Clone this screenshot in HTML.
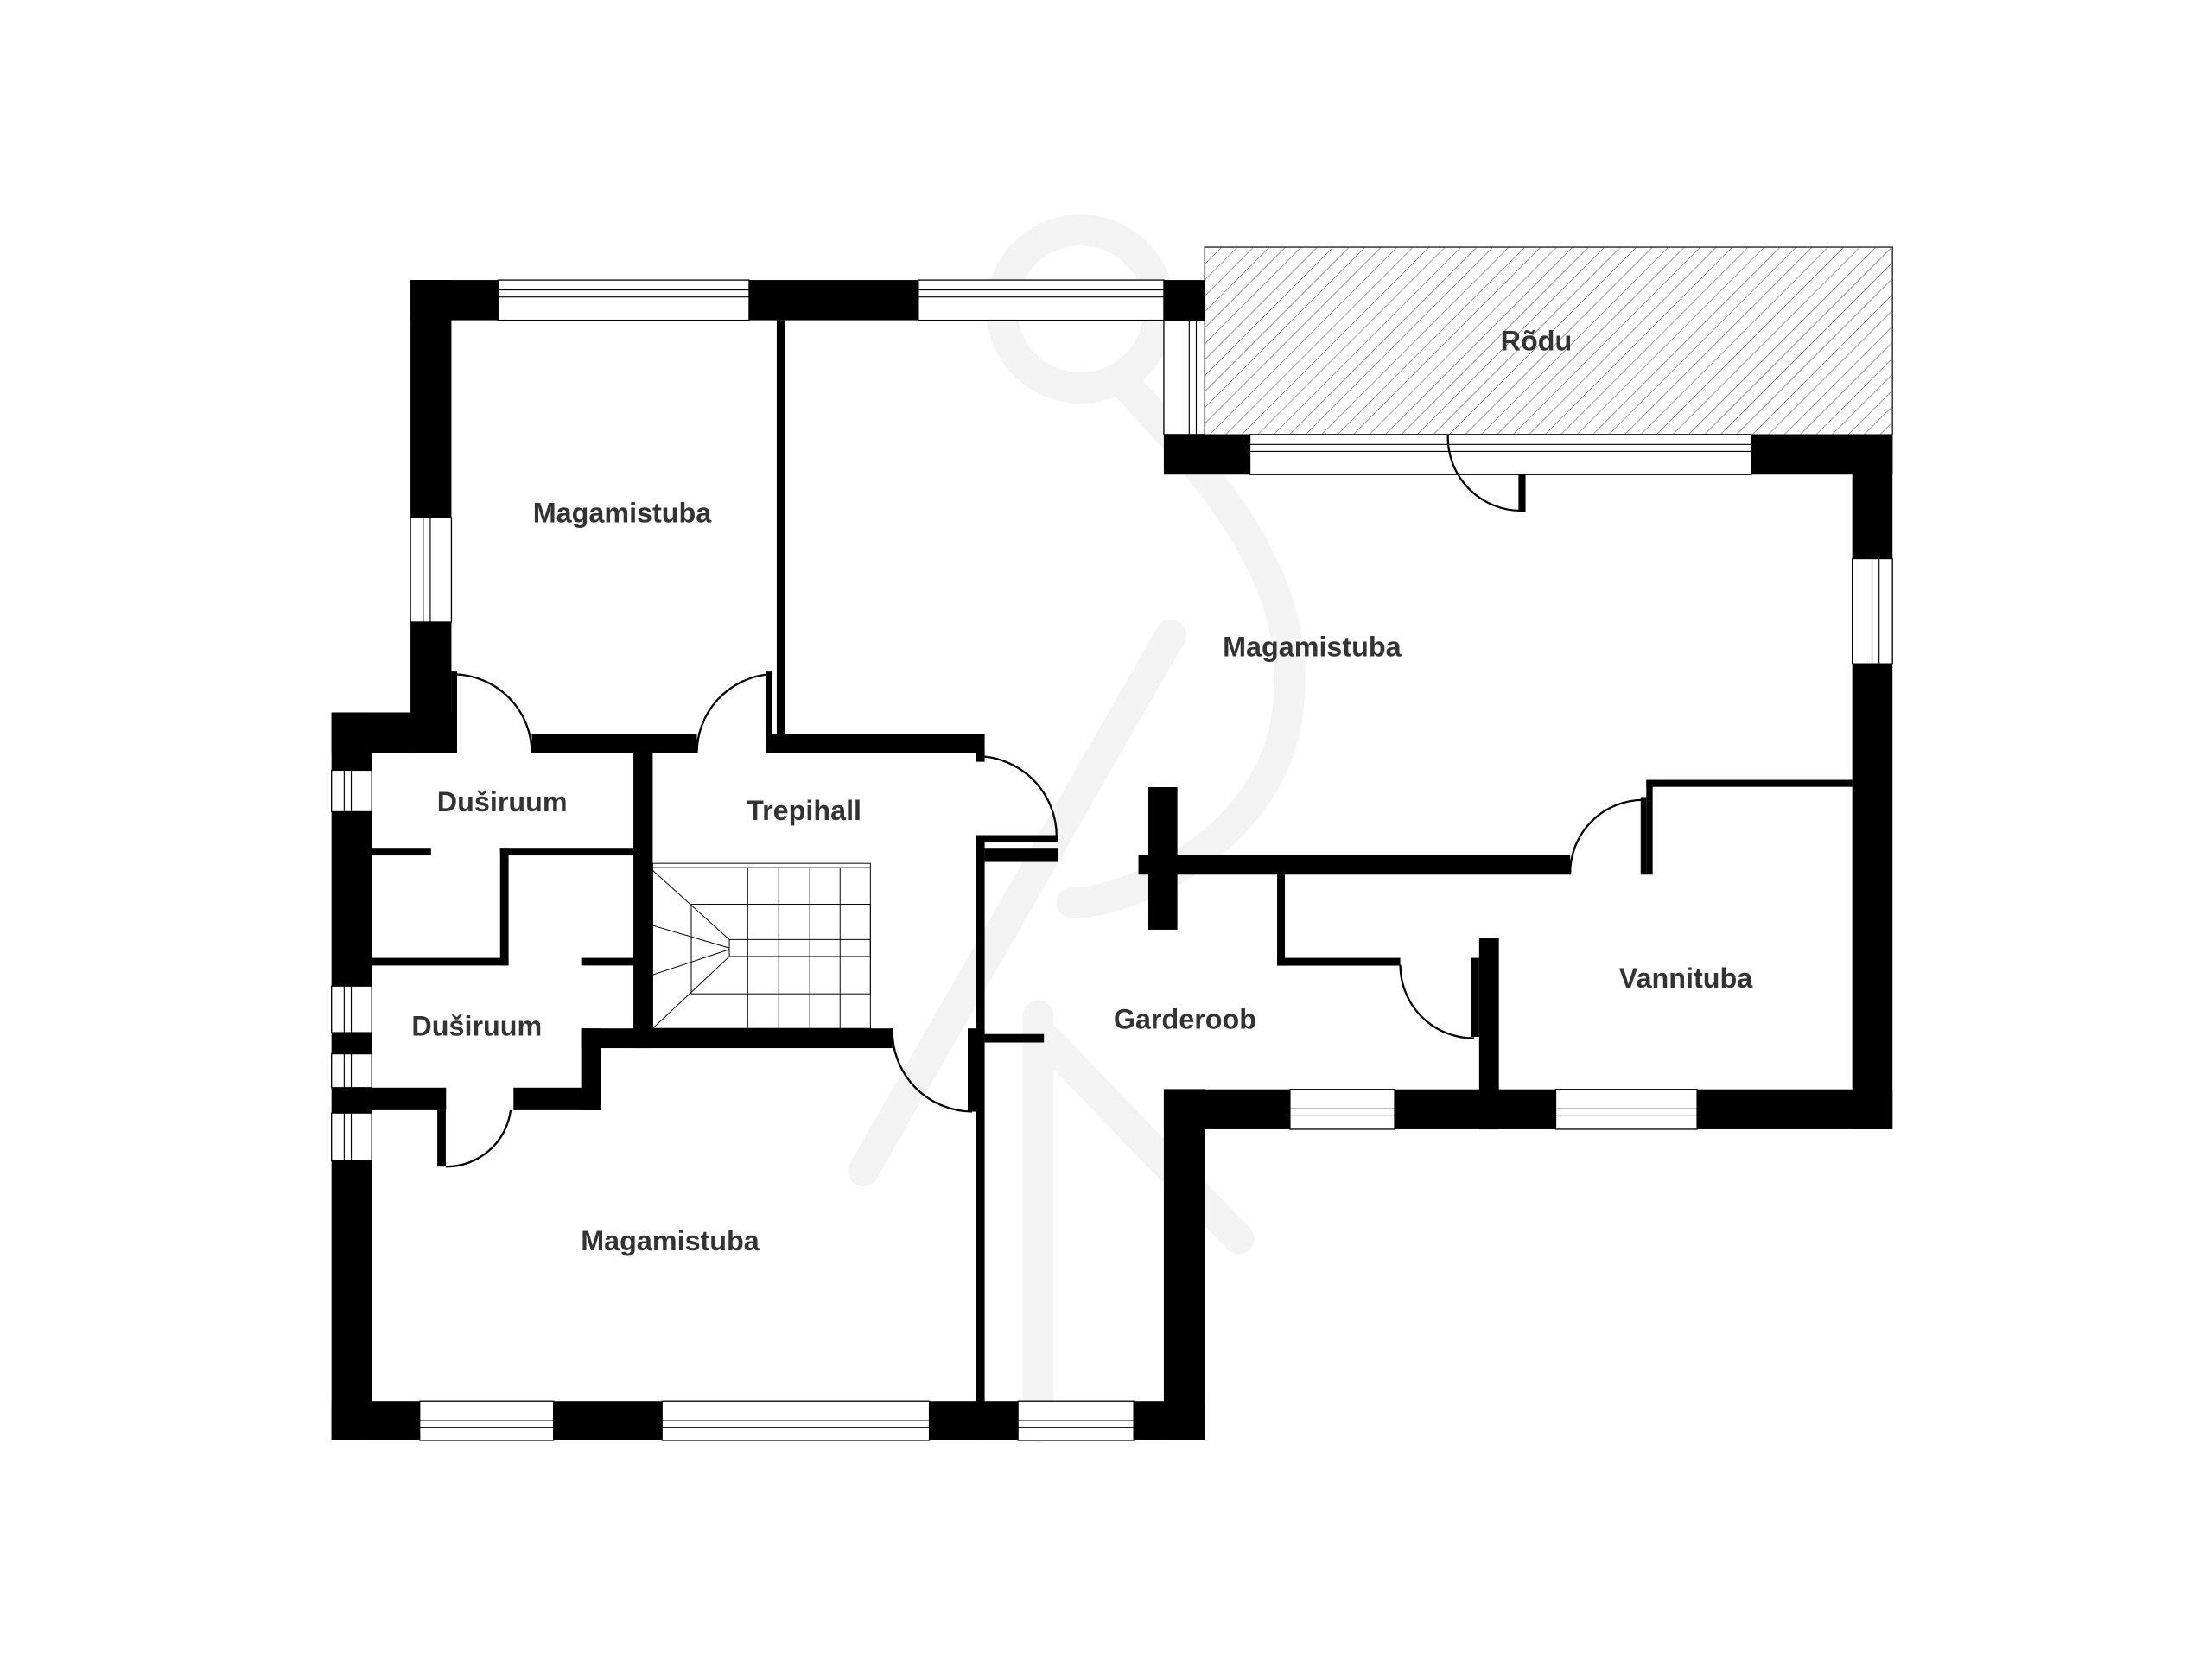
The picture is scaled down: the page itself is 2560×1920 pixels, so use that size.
<!DOCTYPE html>
<html><head><meta charset="utf-8"><style>
html,body{margin:0;padding:0;background:#fff;}
svg{display:block;}
text{font-family:"Liberation Sans",sans-serif;font-weight:bold;fill:#333;font-size:19.8px;text-anchor:middle;dominant-baseline:middle;}
</style></head><body>
<svg width="2560" height="1920" viewBox="0 0 1568 1176" xmlns="http://www.w3.org/2000/svg">
<defs>
<pattern id="h" patternUnits="userSpaceOnUse" width="8" height="8" patternTransform="rotate(45)">
<line x1="0" y1="0" x2="0" y2="8" stroke="#555" stroke-width="0.7"/>
</pattern>
</defs>
<rect width="1568" height="1176" fill="#fff"/>
<!-- watermark -->
<g fill="none" stroke="#f3f3f3" stroke-width="22" stroke-linecap="round">
<circle cx="766" cy="219" r="56"/>
<path d="M800 275 C 880 360, 930 430, 910 520 C 890 600, 800 640, 760 640"/>
<line x1="612" y1="830" x2="830" y2="450"/>
<line x1="736" y1="720" x2="736" y2="1012"/>
<line x1="740" y1="735" x2="878" y2="878"/>
</g>
<!-- balcony -->
<rect x="854" y="175.2" width="487.5" height="133" fill="url(#h)" stroke="#444" stroke-width="1"/>
<text x="1089" y="243">Rõdu</text>
<g fill="#000">
<rect x="291" y="198.5" width="62" height="28.5"/>
<rect x="531" y="198.5" width="120" height="28.5"/>
<rect x="825" y="198.5" width="29" height="28.5"/>
<rect x="291" y="198.5" width="29" height="168.5"/>
<rect x="291" y="441" width="29" height="93"/>
<rect x="235" y="505" width="85" height="29"/>
<rect x="377" y="520" width="117" height="14"/>
<rect x="550.6" y="227" width="6" height="300"/>
<rect x="545" y="520" width="153" height="14"/>
<rect x="235" y="505" width="28.5" height="41"/>
<rect x="235" y="575" width="28.5" height="124"/>
<rect x="235" y="732" width="28.5" height="15"/>
<rect x="235" y="771" width="28.5" height="18"/>
<rect x="235" y="823" width="28.5" height="198"/>
<rect x="449" y="534" width="13.7" height="209"/>
<rect x="263.5" y="601" width="42" height="5.4"/>
<rect x="354.5" y="601" width="94.5" height="5.4"/>
<rect x="354.5" y="601" width="6" height="83.4"/>
<rect x="263.5" y="679" width="97" height="5.4"/>
<rect x="412" y="679" width="37" height="5.4"/>
<rect x="412" y="729" width="14.3" height="58"/>
<rect x="412" y="729" width="220.6" height="14"/>
<rect x="263.5" y="771" width="52.7" height="16"/>
<rect x="364" y="771" width="62" height="16"/>
<rect x="310" y="787" width="6" height="40"/>
<rect x="692" y="534" width="6" height="6"/>
<rect x="692" y="592" width="6" height="429"/>
<rect x="692" y="592" width="58" height="5"/>
<rect x="698" y="601" width="52" height="10"/>
<rect x="686" y="729" width="6" height="59"/>
<rect x="698" y="733" width="42" height="6"/>
<rect x="235" y="993" width="62.5" height="28"/>
<rect x="392.4" y="993" width="77" height="28"/>
<rect x="658.8" y="993" width="63" height="28"/>
<rect x="803.7" y="993" width="50.3" height="28"/>
<rect x="825" y="772" width="29" height="249"/>
<rect x="825" y="308" width="61" height="28.4"/>
<rect x="1241.6" y="308" width="100" height="28.4"/>
<rect x="1076.4" y="308" width="5" height="55"/>
<rect x="1313" y="308" width="28.5" height="88"/>
<rect x="1313" y="470.5" width="28.5" height="330"/>
<rect x="1167" y="552.8" width="146" height="5"/>
<rect x="1167" y="553" width="4.5" height="67"/>
<rect x="1163" y="565" width="4" height="55"/>
<rect x="807" y="606" width="306" height="14"/>
<rect x="814" y="558" width="20.6" height="101"/>
<rect x="905.3" y="620" width="5.5" height="64.5"/>
<rect x="905.3" y="679" width="87.3" height="5.5"/>
<rect x="1043" y="679" width="5.5" height="56"/>
<rect x="1048.5" y="664.6" width="14" height="136"/>
<rect x="825" y="772.2" width="89.4" height="28.3"/>
<rect x="988.6" y="772.2" width="114.2" height="28.3"/>
<rect x="1203" y="772.2" width="138.5" height="28.3"/>
<rect x="320" y="476" width="4" height="58"/>
<rect x="543" y="476" width="4" height="58"/>
</g>
<g fill="#fff" stroke="#000" stroke-width="0.8">
<rect x="353" y="198.5" width="178" height="28.5"/>
<rect x="651" y="198.5" width="174" height="28.5"/>
<rect x="291" y="367" width="29" height="74"/>
<rect x="235" y="546" width="28.5" height="29.4"/>
<rect x="235" y="699" width="28.5" height="33"/>
<rect x="235" y="747" width="28.5" height="24"/>
<rect x="235" y="789" width="28.5" height="34"/>
<rect x="297.5" y="993" width="94.9" height="28"/>
<rect x="469.3" y="993" width="189.5" height="28"/>
<rect x="721.6" y="993" width="82.1" height="28"/>
<rect x="825" y="227" width="29" height="81"/>
<rect x="886" y="308" width="355.6" height="28.4"/>
<rect x="1313" y="396" width="28.5" height="74.5"/>
<rect x="914.4" y="772.2" width="74.2" height="28.3"/>
<rect x="1102.8" y="772.2" width="100.2" height="28.3"/>
</g>
<g stroke="#000" stroke-width="0.7" fill="none">
<path d="M353 205.5H531M353 210.5H531M651 205.5H825M651 210.5H825"/>
<path d="M300 367V441M305 367V441"/>
<path d="M244 546V575M249 546V575M244 699V732M249 699V732M244 747V771M249 747V771M244 789V823M249 789V823"/>
<path d="M297.5 1007H392.4M297.5 1012H392.4M469.3 1007H658.8M469.3 1012H658.8M721.6 1007H803.7M721.6 1012H803.7"/>
<path d="M843 227V308M848 227V308"/>
<path d="M886 315H1241.6M886 320H1241.6"/>
<path d="M1327 396V470.5M1332 396V470.5"/>
<path d="M914.4 786H988.6M914.4 791H988.6M1102.8 786H1203M1102.8 791H1203"/>
</g>
<g stroke="#000" stroke-width="1.4" fill="none">
<path d="M322 478 A56 56 0 0 1 377 534"/>
<path d="M545 478 A56 56 0 0 0 494 534"/>
<path d="M362 787 A46 46 0 0 1 316 827"/>
<path d="M632.6 729 A57 57 0 0 0 689 788"/>
<path d="M692 536 A57 57 0 0 1 749 593"/>
<path d="M1026.4 308 A52 52 0 0 0 1078 362"/>
<path d="M1165 567 A52 52 0 0 0 1113 620"/>
<path d="M992.6 684 A52 52 0 0 0 1045 736"/>
</g>
<g stroke="#000" stroke-width="0.6" fill="none">
<rect x="462.7" y="612" width="154.3" height="117"/>
<path d="M462.7 615H617"/>
<path d="M530 615V729M552 615V729M574 615V729M595.5 615V729"/>
<rect x="490" y="641" width="127" height="63.5"/>
<rect x="517" y="666" width="100" height="12"/>
<path d="M462.7 617 L517 666 M462.7 656 L517 672 M462.7 691 L517 673 M462.7 729 L517 678"/>
</g>
<text x="441" y="365">Magamistuba</text>
<text x="930" y="460">Magamistuba</text>
<text x="356" y="570">Duširuum</text>
<text x="570" y="576">Trepihall</text>
<text x="338" y="729">Duširuum</text>
<text x="475" y="881">Magamistuba</text>
<text x="840" y="724">Garderoob</text>
<text x="1195" y="695">Vannituba</text>
</svg>
</body></html>
